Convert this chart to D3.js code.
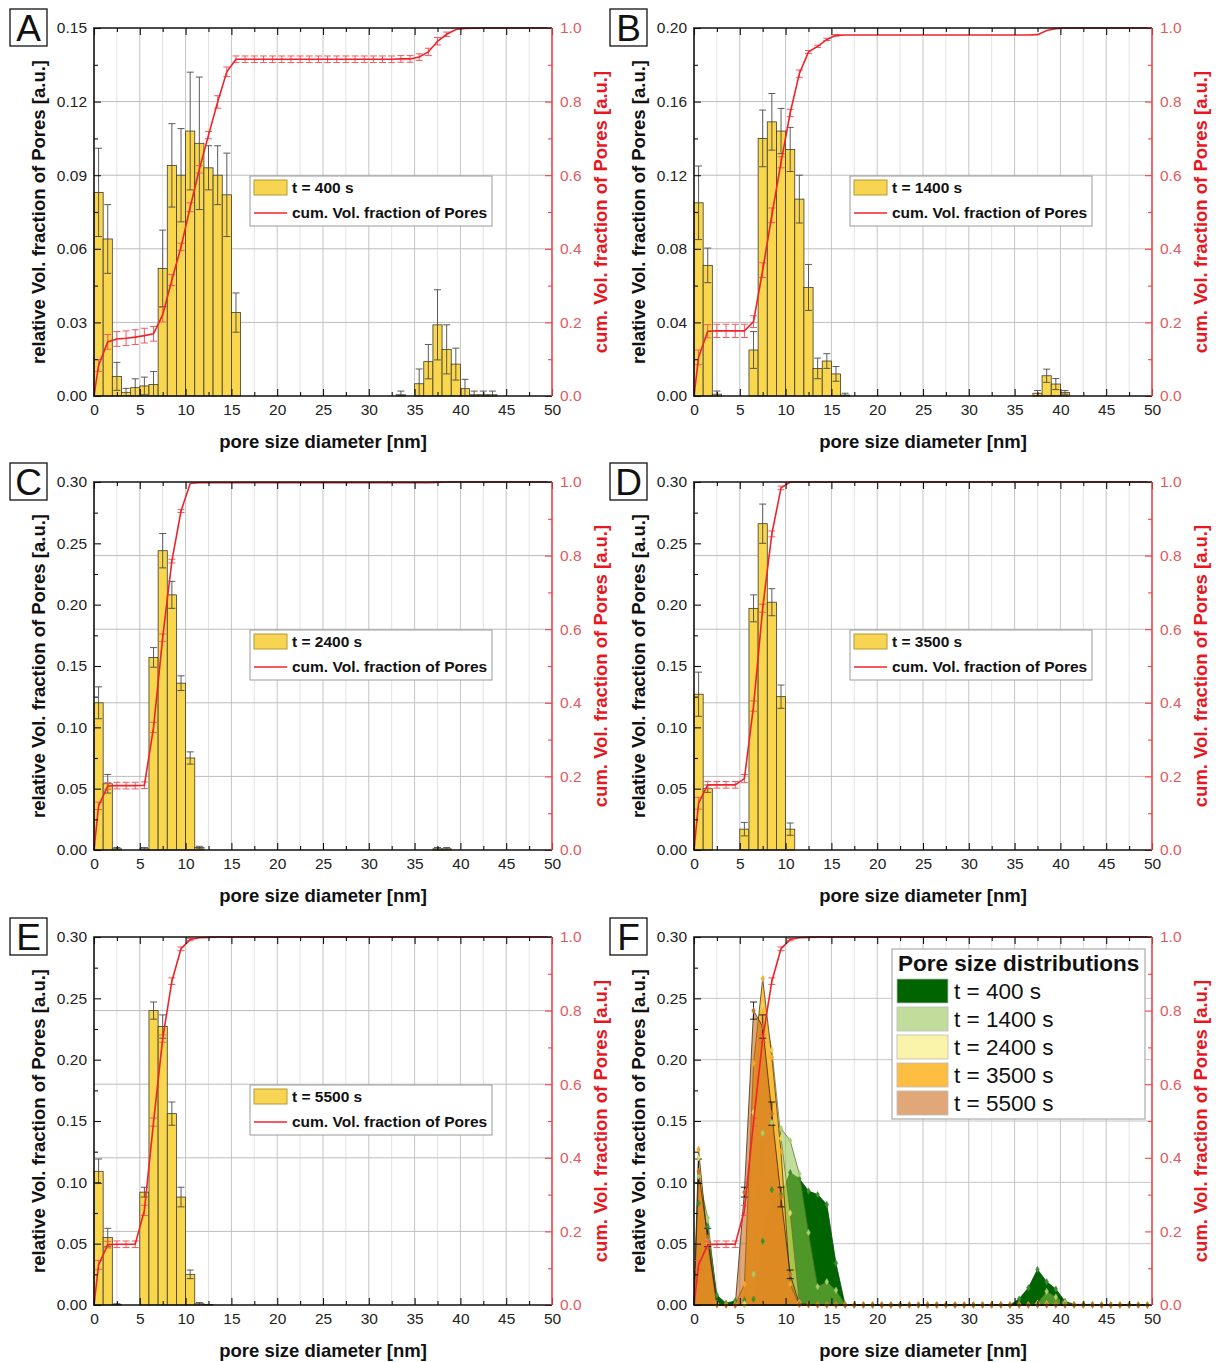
<!DOCTYPE html>
<html><head><meta charset="utf-8">
<script src="https://cdn.jsdelivr.net/npm/d3@7"></script>
<style>
body{margin:0;background:#fff}
svg{display:block}
text{font-family:"Liberation Sans",Arial,Helvetica,sans-serif}
</style></head>
<body><svg id="chart" width="1216" height="1362"></svg>
<script>
// ---------------- data ----------------
const binStart = [0,1,2,3,4,5,6,7,8,9,10,11,12,13,14,15,16,17,18,19,20,21,22,23,24,25,26,27,28,29,30,31,32,33,34,35,36,37,38,39,40,41,42,43,44,45,46,47,48,49];
const xTicks = [0,5,10,15,20,25,30,35,40,45,50];
const xMinor = [2.5,7.5,12.5,17.5,22.5,27.5,32.5,37.5,42.5,47.5];
const rTicks = [0,0.2,0.4,0.6,0.8,1.0];
const rMinor = [0.1,0.3,0.5,0.7,0.9];
const yTicksA = [0,0.03,0.06,0.09,0.12,0.15];
const yTicksB = [0,0.04,0.08,0.12,0.16,0.20];
const yTicks30 = [0,0.05,0.10,0.15,0.20,0.25,0.30];
const panelLetters = ["A","B","C","D","E","F"];
const seriesLabels = ["t = 400 s","t = 1400 s","t = 2400 s","t = 3500 s","t = 5500 s"];
const cumLabel = "cum. Vol. fraction of Pores";
const legendTitleF = "Pore size distributions";

const A_vals = [0.083,0.064,0.008,0.0015,0.0034,0.0041,0.0047,0.052,0.094,0.090,
  0.108,0.103,0.093,0.090,0.082,0.034,0,0,0,0,
  0,0,0,0,0,0,0,0,0,0,
  0,0,0,0.0005,0,0.005,0.014,0.029,0.019,0.013,
  0.003,0.0005,0.0005,0.0005,0,0,0,0,0,0];
const A_err = [0.018,0.014,0.0057,0.0016,0.0036,0.0036,0.0053,0.0156,0.017,0.019,
  0.024,0.027,0.009,0.012,0.017,0.008,0,0,0,0,
  0,0,0,0,0,0,0,0,0,0,
  0,0,0,0.0015,0,0.006,0.007,0.0143,0.010,0.0065,
  0.0038,0.0015,0.0015,0.0015,0,0,0,0,0,0];
const A_cum = [0.083,0.147,0.155,0.157,0.160,0.164,0.169,0.221,0.315,0.405,
  0.513,0.616,0.709,0.799,0.881,0.915,0.915,0.915,0.915,0.915,
  0.915,0.915,0.915,0.915,0.915,0.915,0.915,0.915,0.915,0.915,
  0.915,0.915,0.915,0.916,0.916,0.921,0.935,0.964,0.983,0.996,
  0.999,0.9995,1,1,1,1,1,1,1,1];
const A_cumErr = [0.016,0.02,0.02,0.02,0.02,0.02,0.02,0.02,0.015,0.01,
  0.012,0.01,0.01,0.017,0.013,0.009,0.009,0.009,0.009,0.009,
  0.009,0.009,0.009,0.009,0.009,0.009,0.009,0.009,0.009,0.009,
  0.009,0.009,0.009,0.009,0.009,0.009,0.01,0.01,0.006,0,
  0,0,0,0,0,0,0,0,0,0];

const B_vals = [0.105,0.071,0.001,0,0,0,0.025,0.140,0.149,0.144,
  0.134,0.107,0.059,0.015,0.019,0.012,0.0005,0,0,0,
  0,0,0,0,0,0,0,0,0,0,
  0,0,0,0,0,0,0,0.0015,0.011,0.0065,
  0.002,0,0,0,0,0,0,0,0,0];
const B_err = [0.02,0.0094,0.0017,0,0,0,0.01,0.0154,0.0154,0.0123,
  0.012,0.013,0.0125,0.0056,0.004,0.004,0.001,0,0,0,
  0,0,0,0,0,0,0,0,0,0,
  0,0,0,0,0,0,0,0.0015,0.0036,0.003,
  0.001,0,0,0,0,0,0,0,0,0];
const B_cum = [0.105,0.176,0.177,0.177,0.177,0.177,0.202,0.342,0.491,0.635,
  0.769,0.876,0.935,0.950,0.969,0.980,0.981,0.981,0.981,0.981,
  0.981,0.981,0.981,0.981,0.981,0.981,0.981,0.981,0.981,0.981,
  0.981,0.981,0.981,0.981,0.981,0.981,0.981,0.982,0.993,0.998,
  1,1,1,1,1,1,1,1,1,1];
const B_cumErr = [0.02,0.018,0.018,0.018,0.018,0.018,0.016,0.02,0.02,0.015,
  0.01,0.01,0.004,0.003,0.003,0.002,0,0,0,0,
  0,0,0,0,0,0,0,0,0,0,
  0,0,0,0,0,0,0,0,0,0,
  0,0,0,0,0,0,0,0,0,0];

const C_vals = [0.120,0.054,0.001,0,0,0.001,0.157,0.244,0.208,0.136,
  0.075,0.002,0,0,0,0,0,0,0,0,
  0,0,0,0,0,0,0,0,0,0,
  0,0,0,0,0,0,0,0.001,0.001,0,
  0,0,0,0,0,0,0,0,0,0];
const C_err = [0.013,0.0076,0.001,0,0,0.001,0.008,0.014,0.011,0.006,
  0.005,0.001,0,0,0,0,0,0,0,0,
  0,0,0,0,0,0,0,0,0,0,
  0,0,0,0,0,0,0,0.001,0.001,0,
  0,0,0,0,0,0,0,0,0,0];
const C_cum = [0.120,0.174,0.175,0.175,0.175,0.176,0.333,0.577,0.785,0.921,
  0.996,0.998,0.998,0.998,0.998,0.998,0.998,0.998,0.998,0.998,
  0.998,0.998,0.998,0.998,0.998,0.998,0.998,0.998,0.998,0.998,
  0.998,0.998,0.998,0.998,0.998,0.998,0.998,0.999,1,1,
  1,1,1,1,1,1,1,1,1,1];
const C_cumErr = [0.01,0.009,0.009,0.009,0.009,0.009,0.014,0.01,0.005,0.004,
  0,0,0,0,0,0,0,0,0,0,
  0,0,0,0,0,0,0,0,0,0,
  0,0,0,0,0,0,0,0,0,0,
  0,0,0,0,0,0,0,0,0,0];

const D_vals = [0.127,0.050,0,0,0,0.017,0.197,0.266,0.202,0.125,
  0.017,0,0,0,0,0,0,0,0,0,
  0,0,0,0,0,0,0,0,0,0,
  0,0,0,0,0,0,0,0,0,0,
  0,0,0,0,0,0,0,0,0,0];
const D_err = [0.018,0.003,0,0,0,0.0055,0.011,0.016,0.011,0.0095,
  0.005,0,0,0,0,0,0,0,0,0,
  0,0,0,0,0,0,0,0,0,0,
  0,0,0,0,0,0,0,0,0,0,
  0,0,0,0,0,0,0,0,0,0];
const D_cum = [0.127,0.177,0.177,0.177,0.177,0.194,0.391,0.657,0.859,0.984,
  1,1,1,1,1,1,1,1,1,1,
  1,1,1,1,1,1,1,1,1,1,
  1,1,1,1,1,1,1,1,1,1,
  1,1,1,1,1,1,1,1,1,1];
const D_cumErr = [0.016,0.009,0.009,0.009,0.009,0.011,0.014,0.011,0.008,0.005,
  0,0,0,0,0,0,0,0,0,0,
  0,0,0,0,0,0,0,0,0,0,
  0,0,0,0,0,0,0,0,0,0,
  0,0,0,0,0,0,0,0,0,0];

const E_vals = [0.109,0.055,0.0005,0,0,0.092,0.240,0.227,0.156,0.088,
  0.025,0.001,0.0005,0,0,0,0,0,0,0,
  0,0,0,0,0,0,0,0,0,0,
  0,0,0,0,0,0,0,0,0,0,
  0,0,0,0,0,0,0,0,0,0];
const E_err = [0.010,0.0075,0.0005,0,0,0.004,0.007,0.0095,0.0095,0.008,
  0.0035,0.001,0,0,0,0,0,0,0,0,
  0,0,0,0,0,0,0,0,0,0,
  0,0,0,0,0,0,0,0,0,0,
  0,0,0,0,0,0,0,0,0,0];
const E_cum = [0.109,0.164,0.165,0.165,0.165,0.257,0.497,0.724,0.880,0.968,
  0.993,0.998,0.999,1,1,1,1,1,1,1,
  1,1,1,1,1,1,1,1,1,1,
  1,1,1,1,1,1,1,1,1,1,
  1,1,1,1,1,1,1,1,1,1];
const E_cumErr = [0.012,0.009,0.009,0.009,0.009,0.014,0.011,0.01,0.009,0.005,
  0.003,0,0,0,0,0,0,0,0,0,
  0,0,0,0,0,0,0,0,0,0,
  0,0,0,0,0,0,0,0,0,0,
  0,0,0,0,0,0,0,0,0,0];

// ---------------- layout / style ----------------
const W = 458, H = 368;
const FONT = '"Liberation Sans",Arial,Helvetica,sans-serif';
const RED = "#f0232b", RED_AX = "#ee4348", RED_LBL = "#e25a5e", RED_TTL = "#e8161e";
const BAR_FILL = "#f9d64c";
const svg = d3.select("#chart");

const panels = [
  {letter:"A", left:94,  top:28,  vals:A_vals, err:A_err, cum:A_cum, cumErr:A_cumErr, yTicks:yTicksA, label:seriesLabels[0]},
  {letter:"B", left:694, top:28,  vals:B_vals, err:B_err, cum:B_cum, cumErr:B_cumErr, yTicks:yTicksB, label:seriesLabels[1]},
  {letter:"C", left:94,  top:482, vals:C_vals, err:C_err, cum:C_cum, cumErr:C_cumErr, yTicks:yTicks30, label:seriesLabels[2]},
  {letter:"D", left:694, top:482, vals:D_vals, err:D_err, cum:D_cum, cumErr:D_cumErr, yTicks:yTicks30, label:seriesLabels[3]},
  {letter:"E", left:94,  top:937, vals:E_vals, err:E_err, cum:E_cum, cumErr:E_cumErr, yTicks:yTicks30, label:seriesLabels[4]},
];

function styleAxis(sel, color, lineColor, size){
  sel.select(".domain").remove();
  sel.attr("font-family", FONT).attr("font-size", size || 15.5);
  sel.selectAll("line").attr("stroke", lineColor || "#111").attr("stroke-width", 1.1);
  sel.selectAll("text").attr("fill", color || "#222");
}

function drawBase(g, x, y, yR, yTicks, gridLeft){
  const grid = g.append("g");
  grid.selectAll("line.vmin").data(xMinor).join("line")
    .attr("x1", d=>x(d)).attr("x2", d=>x(d)).attr("y1",0).attr("y2",H)
    .attr("stroke","#e2e2e2").attr("stroke-width",1);
  grid.selectAll("line.vmaj").data(xTicks.slice(1,-1)).join("line")
    .attr("x1", d=>x(d)).attr("x2", d=>x(d)).attr("y1",0).attr("y2",H)
    .attr("stroke","#c4c4c4").attr("stroke-width",1);
  if (gridLeft) {
    grid.selectAll("line.h").data(yTicks.slice(1,-1)).join("line")
      .attr("x1",0).attr("x2",W).attr("y1",d=>y(d)).attr("y2",d=>y(d))
      .attr("stroke","#c4c4c4").attr("stroke-width",1);
  } else {
    grid.selectAll("line.h").data(rTicks.slice(1,-1)).join("line")
      .attr("x1",0).attr("x2",W).attr("y1",d=>yR(d)).attr("y2",d=>yR(d))
      .attr("stroke","#bcbcbc").attr("stroke-width",1);
  }
}

function drawAxes(g, x, y, yR, yTicks){
  const yMinor = yTicks.slice(1).map((d,i)=>(d+yTicks[i])/2);
  const fmt2 = d3.format(".2f"), fmt1 = d3.format(".1f");
  g.append("g").attr("transform",`translate(0,${H})`)
    .call(d3.axisBottom(x).tickValues(xTicks).tickSize(-7).tickPadding(8).tickFormat(d3.format("d")))
    .call(s=>styleAxis(s));
  g.append("g").attr("transform",`translate(0,${H})`)
    .call(d3.axisBottom(x).tickValues(xMinor).tickSize(-4).tickFormat(""))
    .call(s=>styleAxis(s));
  g.append("g").call(d3.axisTop(x).tickValues(xTicks).tickSize(-7).tickFormat("")).call(s=>styleAxis(s));
  g.append("g").call(d3.axisTop(x).tickValues(xMinor).tickSize(-4).tickFormat("")).call(s=>styleAxis(s));
  g.append("g").call(d3.axisLeft(y).tickValues(yTicks).tickSize(-7).tickPadding(7).tickFormat(fmt2)).call(s=>styleAxis(s));
  g.append("g").call(d3.axisLeft(y).tickValues(yMinor).tickSize(-4).tickFormat("")).call(s=>styleAxis(s));
  g.append("g").attr("transform",`translate(${W},0)`)
    .call(d3.axisRight(yR).tickValues(rTicks).tickSize(-7).tickPadding(8).tickFormat(fmt1))
    .call(s=>styleAxis(s, RED_LBL, RED_AX));
  g.append("g").attr("transform",`translate(${W},0)`)
    .call(d3.axisRight(yR).tickValues(rMinor).tickSize(-4).tickFormat(""))
    .call(s=>styleAxis(s, RED_LBL, RED_AX));
  g.append("path").attr("d",`M${W},0H0V${H}H${W}`).attr("fill","none").attr("stroke","#111").attr("stroke-width",1.6);
  g.append("line").attr("x1",W).attr("x2",W).attr("y1",0).attr("y2",H).attr("stroke",RED_AX).attr("stroke-width",1.6);
  g.append("text").attr("x",W/2).attr("y",H+52).attr("text-anchor","middle")
    .attr("font-size",18.5).attr("font-weight","bold").attr("fill","#111").text("pore size diameter [nm]");
  g.append("text").attr("transform",`translate(-49,${H/2}) rotate(-90)`).attr("text-anchor","middle")
    .attr("font-size",18.5).attr("font-weight","bold").attr("fill","#111").text("relative Vol. fraction of Pores [a.u.]");
  g.append("text").attr("transform",`translate(${W+55},${H/2}) rotate(-90)`).attr("text-anchor","middle")
    .attr("font-size",18.5).attr("font-weight","bold").attr("fill",RED_TTL).text("cum. Vol. fraction of Pores [a.u.]");
}

function drawLetter(g, letter){
  g.append("rect").attr("x",-84).attr("y",-19).attr("width",37).attr("height",37)
    .attr("fill","#fff").attr("stroke","#111").attr("stroke-width",1.3);
  g.append("text").attr("x",-65.5).attr("y",13).attr("text-anchor","middle")
    .attr("font-size",37).attr("fill","#111").text(letter);
}

function drawCum(g, x, yR, cum, cumErr){
  const pts = [{x:0, v:0, e:0}].concat(cum.map((c,i)=>({x:binStart[i]+0.5, v:c, e:cumErr[i]})));
  const eb = g.append("g").attr("stroke","#f25a5e").attr("stroke-width",1).attr("fill","none");
  pts.filter(p=>p.e>0).forEach(p=>{
    const cx = x(p.x);
    eb.append("line").attr("x1",cx).attr("x2",cx).attr("y1",yR(p.v-p.e)).attr("y2",yR(p.v+p.e));
    eb.append("line").attr("x1",cx-3.5).attr("x2",cx+3.5).attr("y1",yR(p.v-p.e)).attr("y2",yR(p.v-p.e));
    eb.append("line").attr("x1",cx-3.5).attr("x2",cx+3.5).attr("y1",yR(p.v+p.e)).attr("y2",yR(p.v+p.e));
  });
  g.append("path").datum(pts)
    .attr("d", d3.line().x(p=>x(p.x)).y(p=>yR(p.v)))
    .attr("fill","none").attr("stroke",RED).attr("stroke-width",1.6);
}

// ---------------- histogram panels A–E ----------------
panels.forEach(p=>{
  const g = svg.append("g").attr("transform",`translate(${p.left},${p.top})`);
  const x = d3.scaleLinear().domain([0,50]).range([0,W]);
  const y = d3.scaleLinear().domain([0,p.yTicks[p.yTicks.length-1]]).range([H,0]);
  const yR = d3.scaleLinear().domain([0,1]).range([H,0]);
  drawBase(g, x, y, yR, p.yTicks, false);

  const bw = x(1)-x(0);
  const data = p.vals.map((v,i)=>({s:binStart[i], v, e:p.err[i]})).filter(d=>d.v>0);
  g.append("g").selectAll("rect").data(data).join("rect")
    .attr("x", d=>x(d.s)).attr("width", bw)
    .attr("y", d=>y(d.v)).attr("height", d=>H-y(d.v))
    .attr("fill", BAR_FILL).attr("stroke","#3b3b32").attr("stroke-width",0.8);
  const eg = g.append("g").attr("stroke","#4a4a4a").attr("stroke-width",0.9);
  data.filter(d=>d.e>0).forEach(d=>{
    const cx = x(d.s+0.5);
    eg.append("line").attr("x1",cx).attr("x2",cx).attr("y1",y(Math.max(0,d.v-d.e))).attr("y2",y(d.v+d.e));
    eg.append("line").attr("x1",cx-3.5).attr("x2",cx+3.5).attr("y1",y(d.v+d.e)).attr("y2",y(d.v+d.e));
    if (d.v-d.e>0) eg.append("line").attr("x1",cx-3.5).attr("x2",cx+3.5).attr("y1",y(d.v-d.e)).attr("y2",y(d.v-d.e));
  });

  drawCum(g, x, yR, p.cum, p.cumErr);

  const lg = g.append("g").attr("transform","translate(156,148)");
  lg.append("rect").attr("width",242).attr("height",50).attr("fill","#fff").attr("stroke","#999").attr("stroke-width",1);
  lg.append("rect").attr("x",4).attr("y",4).attr("width",33).attr("height",15).attr("fill","#f7d452").attr("stroke","#b49a2e");
  lg.append("text").attr("x",42).attr("y",17).attr("font-size",15.5).attr("font-weight","bold").attr("fill","#111").text(p.label);
  lg.append("line").attr("x1",4).attr("x2",37).attr("y1",37).attr("y2",37).attr("stroke",RED).attr("stroke-width",1.6);
  lg.append("text").attr("x",42).attr("y",42).attr("font-size",15.5).attr("font-weight","bold").attr("fill","#111").text(cumLabel);

  drawAxes(g, x, y, yR, p.yTicks);
  drawLetter(g, p.letter);
});

// ---------------- panel F ----------------
(function(){
  const g = svg.append("g").attr("transform","translate(694,937)");
  const x = d3.scaleLinear().domain([0,50]).range([0,W]);
  const y = d3.scaleLinear().domain([0,0.30]).range([H,0]);
  const yR = d3.scaleLinear().domain([0,1]).range([H,0]);
  drawBase(g, x, y, yR, yTicks30, true);

  const series = [
    {vals:A_vals, fill:"#006400", op:1.0,  stroke:"#0b3d0b", mark:"#3a8f2e"},
    {vals:B_vals, fill:"#90c149", op:0.55, stroke:"#4d6e2a", mark:"#a6cf6a"},
    {vals:C_vals, fill:"#f5e964", op:0.55, stroke:"#6e6a30", mark:"#e2da66"},
    {vals:D_vals, fill:"#fdb72d", op:0.9,  stroke:"#3a2a10", mark:"#f6a62a"},
    {vals:E_vals, fill:"#ca6916", op:0.58, stroke:"#2a1a0a", mark:"#c0702a"},
  ];
  const area = d3.area().x(p=>x(p.x)).y0(H).y1(p=>y(p.v));
  series.forEach(s=>{
    const pts = [{x:0,v:0}].concat(s.vals.map((v,i)=>({x:binStart[i]+0.5, v})));
    s.pts = pts;
    g.append("path").datum(pts).attr("d", area)
      .attr("fill", s.fill).attr("fill-opacity", s.op)
      .attr("stroke", s.stroke).attr("stroke-width", 0.8).attr("stroke-opacity",0.9);
  });
  const eg = g.append("g").attr("stroke","#111").attr("stroke-width",0.9);
  E_vals.forEach((v,i)=>{
    const e = E_err[i]; if (!(e>0) || v<0.004) return;
    const cx = x(binStart[i]+0.5);
    eg.append("line").attr("x1",cx).attr("x2",cx).attr("y1",y(v-e)).attr("y2",y(v+e));
    eg.append("line").attr("x1",cx-3.5).attr("x2",cx+3.5).attr("y1",y(v+e)).attr("y2",y(v+e));
    eg.append("line").attr("x1",cx-3.5).attr("x2",cx+3.5).attr("y1",y(v-e)).attr("y2",y(v-e));
  });
  const sym = d3.symbol().type(d3.symbolDiamond).size(12);
  series.forEach(s=>{
    g.append("g").selectAll("path").data(s.pts.slice(1)).join("path")
      .attr("d", sym).attr("transform", p=>`translate(${x(p.x)},${y(p.v)})`)
      .attr("fill", s.mark).attr("stroke", s.mark).attr("stroke-width",0.4);
  });

  drawCum(g, x, yR, E_cum, E_cumErr);

  const lg = g.append("g").attr("transform","translate(198,12)");
  lg.append("rect").attr("width",253).attr("height",170).attr("fill","#fff").attr("stroke","#999").attr("stroke-width",1);
  lg.append("text").attr("x",6).attr("y",22).attr("font-size",22.5).attr("font-weight","bold").attr("fill","#111").text(legendTitleF);
  series.forEach((s,i)=>{
    const ry = 30 + i*28;
    lg.append("rect").attr("x",5).attr("y",ry).attr("width",51).attr("height",24)
      .attr("fill",s.fill).attr("fill-opacity",s.op).attr("stroke","#bbb").attr("stroke-width",0.8);
    lg.append("text").attr("x",62).attr("y",ry+20).attr("font-size",22.5).attr("fill","#111").text(seriesLabels[i]);
  });

  drawAxes(g, x, y, yR, yTicks30);
  drawLetter(g, "F");
})();
</script>
</body></html>
